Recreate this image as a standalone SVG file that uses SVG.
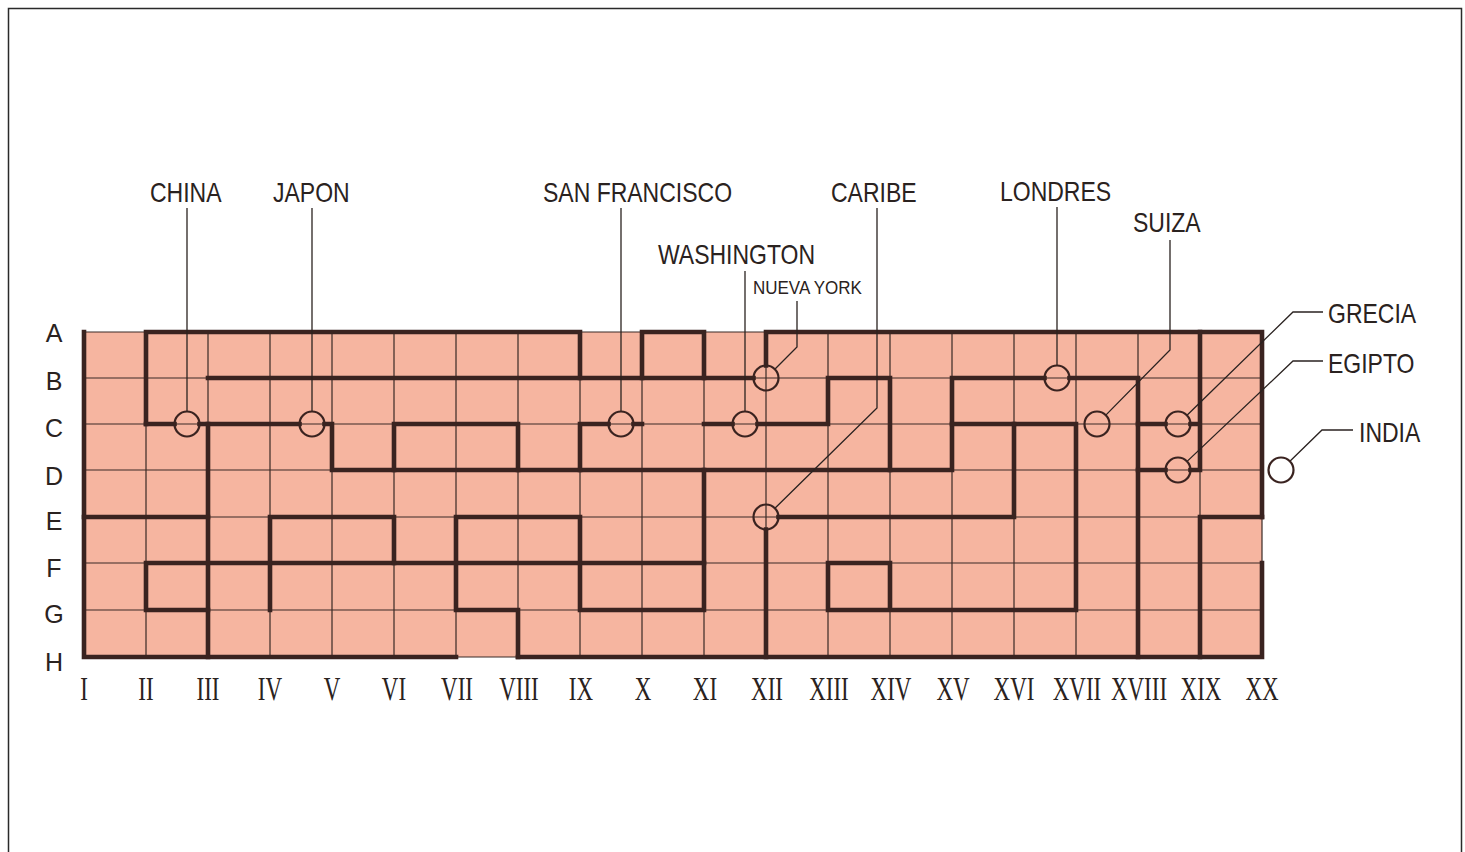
<svg xmlns="http://www.w3.org/2000/svg" width="1465" height="852" viewBox="0 0 1465 852">
<style>
.lbl{font-family:"Liberation Sans",Arial,sans-serif;font-size:23px;fill:#2a2220}
.sm{font-size:17px}
.row{font-family:"Liberation Sans",Arial,sans-serif;font-size:25px;fill:#2a2220;text-anchor:middle}
.num{font-family:"Liberation Serif","Times New Roman",serif;font-size:23px;fill:#2a2220;text-anchor:middle}
.thin{stroke:#3a2a26;stroke-width:1.2;fill:none}
.wall{stroke:#3a2320;stroke-width:4.6;fill:none;stroke-linecap:square;stroke-linejoin:miter}
.lead{stroke:#2a2220;stroke-width:1.3;fill:none}
.st{stroke:#3a2320;stroke-width:2.2;fill:none}
</style>
<rect x="0" y="0" width="1465" height="852" fill="#ffffff"/>
<rect x="8.5" y="8.5" width="1453" height="852" fill="none" stroke="#2a2a2a" stroke-width="1.5"/>

<g id="grid">
<rect x="84" y="332" width="1178" height="325" fill="#f6b5a0"/>
<path class="thin" d="M84 332H1262M84 378H1262M84 424H1262M84 470H1262M84 517H1262M84 563H1262M84 610H1262M84 657H1262
M146 332V657M208 332V657M270 332V657M332 332V657M394 332V657M456 332V657M518 332V657M580 332V657M642 332V657M704 332V657M766 332V657M828 332V657M890 332V657M952 332V657M1014 332V657M1076 332V657M1138 332V657M1200 332V657M1262 332V657"/>
</g>

<g id="walls">
<path class="wall" d="M456 657H84V332"/>
<path class="wall" d="M518 657H1262V563"/>
<path class="wall" d="M146 424V332H580V378"/>
<path class="wall" d="M208 378H753.5"/>
<path class="wall" d="M642 378V332H704V378"/>
<path class="wall" d="M766 365.5V332H1262V517"/>
<path class="wall" d="M146 424H174.5M199.5 424H299.5M324.5 424H332V470H952V378H1044.5M1069.5 378H1138V657"/>
<path class="wall" d="M208 424V657"/>
<path class="wall" d="M84 517H208"/>
<path class="wall" d="M208 610H146V563H704"/>
<path class="wall" d="M270 610V517H394V563"/>
<path class="wall" d="M394 470V424H518V470"/>
<path class="wall" d="M580 470V424H608.5M633.5 424H642"/>
<path class="wall" d="M704 424H732.5M757.5 424H828V378H890V470"/>
<path class="wall" d="M518 657V610H456V517H580V610H704V470"/>
<path class="wall" d="M766 529.5V657"/>
<path class="wall" d="M778.5 517H1014V424H1076V610H828V563H890V610"/>
<path class="wall" d="M952 424H1014"/>
<path class="wall" d="M1138 424H1165.5M1190.5 424H1200M1200 332V470M1138 470H1165.5M1190.5 470H1200"/>
<path class="wall" d="M1200 657V517H1262"/>
</g>

<g id="connectors">
<path class="lead" d="M187 208V411.5"/>
<path class="lead" d="M312 208V411.5"/>
<path class="lead" d="M621 208V411.5"/>
<path class="lead" d="M745 271V411.5"/>
<path class="lead" d="M797 301V347L774.8 369.2"/>
<path class="lead" d="M877 208V408L774.9 508.2"/>
<path class="lead" d="M1057 207V365.5"/>
<path class="lead" d="M1170 240V350L1105.8 415.1"/>
<path class="lead" d="M1323 312H1293L1187 415.3"/>
<path class="lead" d="M1323 361H1293L1187.1 461.4"/>
<path class="lead" d="M1353 430H1322L1289.9 461.3"/>
</g>

<g id="node-china"><circle class="st" cx="187" cy="424" r="12.5"/><text class="lbl" transform="translate(150 202) scale(1 1.17)">CHINA</text></g>
<g id="node-japon"><circle class="st" cx="312" cy="424" r="12.5"/><text class="lbl" transform="translate(273 202) scale(1 1.17)">JAPON</text></g>
<g id="node-san-francisco"><circle class="st" cx="621" cy="424" r="12.5"/><text class="lbl" transform="translate(543 202) scale(1 1.17)">SAN FRANCISCO</text></g>
<g id="node-washington"><circle class="st" cx="745" cy="424" r="12.5"/><text class="lbl" transform="translate(658 264) scale(1 1.17)">WASHINGTON</text></g>
<g id="node-nueva-york"><circle class="st" cx="766" cy="378" r="12.5"/><text class="lbl sm" transform="translate(753 294) scale(1 1.1)">NUEVA YORK</text></g>
<g id="node-caribe"><circle class="st" cx="766" cy="517" r="12.5"/><text class="lbl" transform="translate(831 202) scale(1 1.17)">CARIBE</text></g>
<g id="node-londres"><circle class="st" cx="1057" cy="378" r="12.5"/><text class="lbl" transform="translate(1000 201) scale(1 1.17)">LONDRES</text></g>
<g id="node-suiza"><circle class="st" cx="1097" cy="424" r="12.5"/><text class="lbl" transform="translate(1133 232) scale(1 1.17)">SUIZA</text></g>
<g id="node-grecia"><circle class="st" cx="1178" cy="424" r="12.5"/><text class="lbl" transform="translate(1328 323) scale(1 1.17)">GRECIA</text></g>
<g id="node-egipto"><circle class="st" cx="1178" cy="470" r="12.5"/><text class="lbl" transform="translate(1328 373) scale(1 1.17)">EGIPTO</text></g>
<g id="node-india"><circle class="st" cx="1281" cy="470" r="12.5"/><text class="lbl" transform="translate(1359 441.5) scale(1 1.17)">INDIA</text></g>

<g id="row-labels">
<text class="row" x="54" y="342">A</text>
<text class="row" x="54" y="390">B</text>
<text class="row" x="54" y="437">C</text>
<text class="row" x="54" y="485">D</text>
<text class="row" x="54" y="530">E</text>
<text class="row" x="54" y="577">F</text>
<text class="row" x="54" y="623">G</text>
<text class="row" x="54" y="671">H</text>
</g>

<g id="col-labels">
<text class="num" transform="translate(84 700) scale(1 1.45)">I</text>
<text class="num" transform="translate(146 700) scale(1 1.45)">II</text>
<text class="num" transform="translate(208 700) scale(1 1.45)">III</text>
<text class="num" transform="translate(270 700) scale(1 1.45)">IV</text>
<text class="num" transform="translate(332 700) scale(1 1.45)">V</text>
<text class="num" transform="translate(394 700) scale(1 1.45)">VI</text>
<text class="num" transform="translate(457 700) scale(1 1.45)">VII</text>
<text class="num" transform="translate(519 700) scale(1 1.45)">VIII</text>
<text class="num" transform="translate(581 700) scale(1 1.45)">IX</text>
<text class="num" transform="translate(643 700) scale(1 1.45)">X</text>
<text class="num" transform="translate(705 700) scale(1 1.45)">XI</text>
<text class="num" transform="translate(767 700) scale(1 1.45)">XII</text>
<text class="num" transform="translate(829 700) scale(1 1.45)">XIII</text>
<text class="num" transform="translate(891 700) scale(1 1.45)">XIV</text>
<text class="num" transform="translate(953 700) scale(1 1.45)">XV</text>
<text class="num" transform="translate(1014 700) scale(1 1.45)">XVI</text>
<text class="num" transform="translate(1077 700) scale(1 1.45)">XVII</text>
<text class="num" transform="translate(1139 700) scale(1 1.45)">XVIII</text>
<text class="num" transform="translate(1201 700) scale(1 1.45)">XIX</text>
<text class="num" transform="translate(1262 700) scale(1 1.45)">XX</text>
</g>
</svg>
